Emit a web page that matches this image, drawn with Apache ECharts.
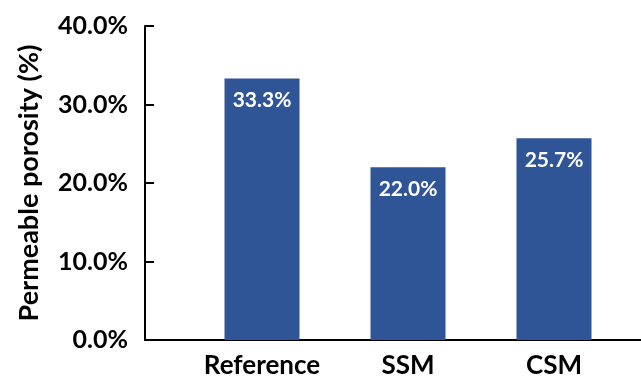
<!DOCTYPE html>
<html>
<head>
<meta charset="utf-8">
<script src="https://cdn.jsdelivr.net/npm/echarts@6/dist/echarts.min.js"></script>
<style>
  html, body { margin: 0; padding: 0; background: #fff; }
  #chart { width: 641px; height: 383px; }
</style>
</head>
<body>
<div id="chart"></div>
<script>
// data
const categories = ['Reference', 'SSM', 'CSM'];
const porosity = [33.3, 22.0, 25.7];      // permeable porosity, %
const yMin = 0, yMax = 40, yStep = 10;     // tick labels 0.0% .. 40.0%

const FONT = 'Lato';
const pct = function (v) { return Number(v).toFixed(1) + '%'; };

let chart = echarts.init(document.getElementById('chart'));

chart.setOption({
    animation: false,
    // grid 0 carries the visible frame (y axis + full-width x line), grid 1 carries the bars
    grid: [
        { left: 145, right: 0, top: 26, bottom: 43 },
        { left: 189, right: 14, top: 26, bottom: 43 }
    ],
    xAxis: [
        {
            gridIndex: 0, type: 'category', data: [''],
            axisLine: { show: true, lineStyle: { color: '#000', width: 2 } },
            axisTick: { show: false },
            axisLabel: { show: false }
        },
        {
            gridIndex: 1, type: 'category', data: categories,
            axisLine: { show: false },
            axisTick: { show: false },
            axisLabel: {
                interval: 0,
                margin: 13,
                color: '#000',
                fontFamily: FONT,
                fontWeight: 'bold',
                fontSize: 26
            }
        }
    ],
    yAxis: [
        {
            gridIndex: 0, type: 'value',
            min: yMin, max: yMax, interval: yStep,
            name: 'Permeable porosity (%)',
            nameLocation: 'middle',
            nameGap: 102,
            nameTextStyle: { color: '#000', fontFamily: FONT, fontWeight: 'bold', fontSize: 27 },
            axisLine: { show: true, lineStyle: { color: '#000', width: 2 } },
            axisTick: { show: true, inside: true, length: 9, lineStyle: { color: '#000', width: 2 } },
            splitLine: { show: false },
            axisLabel: {
                margin: 17,
                color: '#000',
                fontFamily: FONT,
                fontWeight: 'bold',
                fontSize: 25,
                formatter: pct
            }
        },
        {
            gridIndex: 1, type: 'value',
            min: yMin, max: yMax, interval: yStep,
            show: false
        }
    ],
    series: [{
        type: 'bar',
        xAxisIndex: 1,
        yAxisIndex: 1,
        data: porosity,
        barWidth: 75,
        itemStyle: { color: '#2F5597' },
        label: {
            show: true,
            position: 'insideTop',
            distance: 11,
            color: '#fff',
            fontFamily: FONT,
            fontWeight: 'bold',
            fontSize: 21,
            formatter: function (p) { return pct(p.value); }
        }
    }]
});
</script>
</body>
</html>
